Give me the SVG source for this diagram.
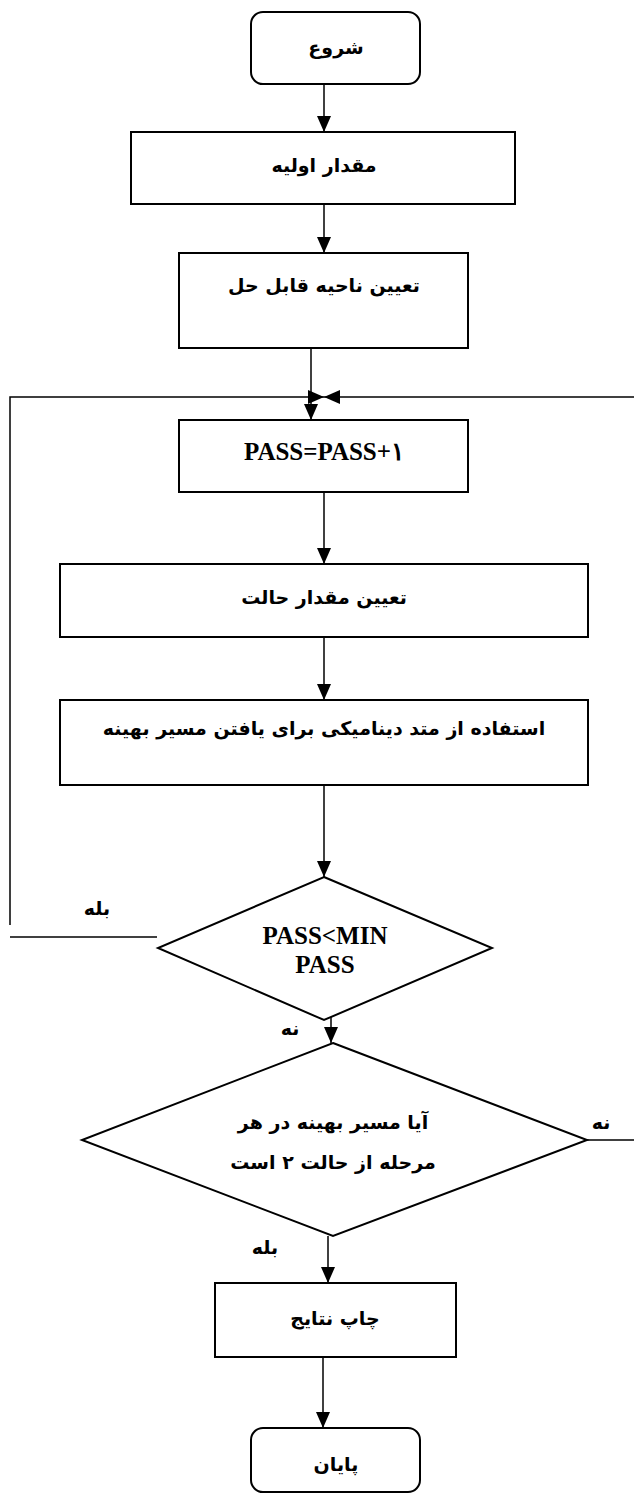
<svg xmlns="http://www.w3.org/2000/svg" width="634" height="1495" viewBox="0 0 634 1495">
<style>
.box{fill:#fff;stroke:#000;stroke-width:2}
.ln{stroke:#000;stroke-width:1.5;fill:none}
.fa{font-family:"DejaVu Sans",sans-serif;font-weight:bold;font-size:19px;text-anchor:middle;dominant-baseline:central}
.en{font-family:"Liberation Serif","DejaVu Serif",serif;font-weight:bold;font-size:25px;text-anchor:middle;dominant-baseline:central}
</style>
<defs>
<marker id="ah" viewBox="0 0 16 14" refX="16" refY="7" markerWidth="16" markerHeight="14" markerUnits="userSpaceOnUse" orient="auto"><path d="M0,0 L16,7 L0,14 z" fill="#000"/></marker>
</defs>
<g id="connectors">
<path class="ln" d="M324,84 V132" marker-end="url(#ah)"/>
<path class="ln" d="M324,204 V253" marker-end="url(#ah)"/>
<path class="ln" d="M311,348 V420" marker-end="url(#ah)"/>
<path class="ln" d="M10,925 V397 H324" marker-end="url(#ah)"/>
<path class="ln" d="M634,397 H324" marker-end="url(#ah)"/>
<path class="ln" d="M324,492 V564" marker-end="url(#ah)"/>
<path class="ln" d="M324,637 V700" marker-end="url(#ah)"/>
<path class="ln" d="M324,785 V877" marker-end="url(#ah)"/>
<path class="ln" d="M157,937 H10"/>
<path class="ln" d="M331,995 V1043" marker-end="url(#ah)"/>
<path class="ln" d="M328,1236 V1283" marker-end="url(#ah)"/>
<path class="ln" d="M587,1140 H634"/>
<path class="ln" d="M323,1357 V1428" marker-end="url(#ah)"/>
<text class="fa" x="97" y="908">بله</text>
<text class="fa" x="290" y="1028">نه</text>
<text class="fa" x="601" y="1122">نه</text>
<text class="fa" x="265" y="1247">بله</text>
</g>
<g id="start"><rect class="box" x="251" y="12" width="169" height="72" rx="12"/><text class="fa" x="336" y="47">شروع</text></g>
<g id="init"><rect class="box" x="131" y="132" width="384" height="72"/><text class="fa" x="324" y="165">مقدار اولیه</text></g>
<g id="region"><rect class="box" x="179" y="253" width="289" height="95"/><text class="fa" x="324" y="285">تعیین ناحیه قابل حل</text></g>
<g id="pass"><rect class="box" x="179" y="420" width="289" height="72"/><text class="en" x="324" y="451">PASS=PASS+۱</text></g>
<g id="state"><rect class="box" x="60" y="564" width="528" height="73"/><text class="fa" x="324" y="597">تعیین مقدار حالت</text></g>
<g id="dp"><rect class="box" x="60" y="700" width="528" height="85"/><text class="fa" x="324" y="728">استفاده از متد دینامیکی برای یافتن مسیر بهینه</text></g>
<g id="d1"><polygon class="box" points="324,877 492,948 324,1020 158,948"/><text class="en" x="325" y="935">PASS&lt;MIN</text><text class="en" x="325" y="964">PASS</text></g>
<g id="d2"><polygon class="box" points="333,1043 587,1140 333,1236 82,1140"/><text class="fa" x="333" y="1122">آیا مسیر بهینه در هر</text><text class="fa" x="333" y="1162">مرحله از حالت ۲ است</text></g>
<g id="print"><rect class="box" x="215" y="1283" width="241" height="74"/><text class="fa" x="335" y="1318">چاپ نتایج</text></g>
<g id="end"><rect class="box" x="251" y="1428" width="169" height="64" rx="12"/><text class="fa" x="336" y="1464">پایان</text></g>
</svg>
